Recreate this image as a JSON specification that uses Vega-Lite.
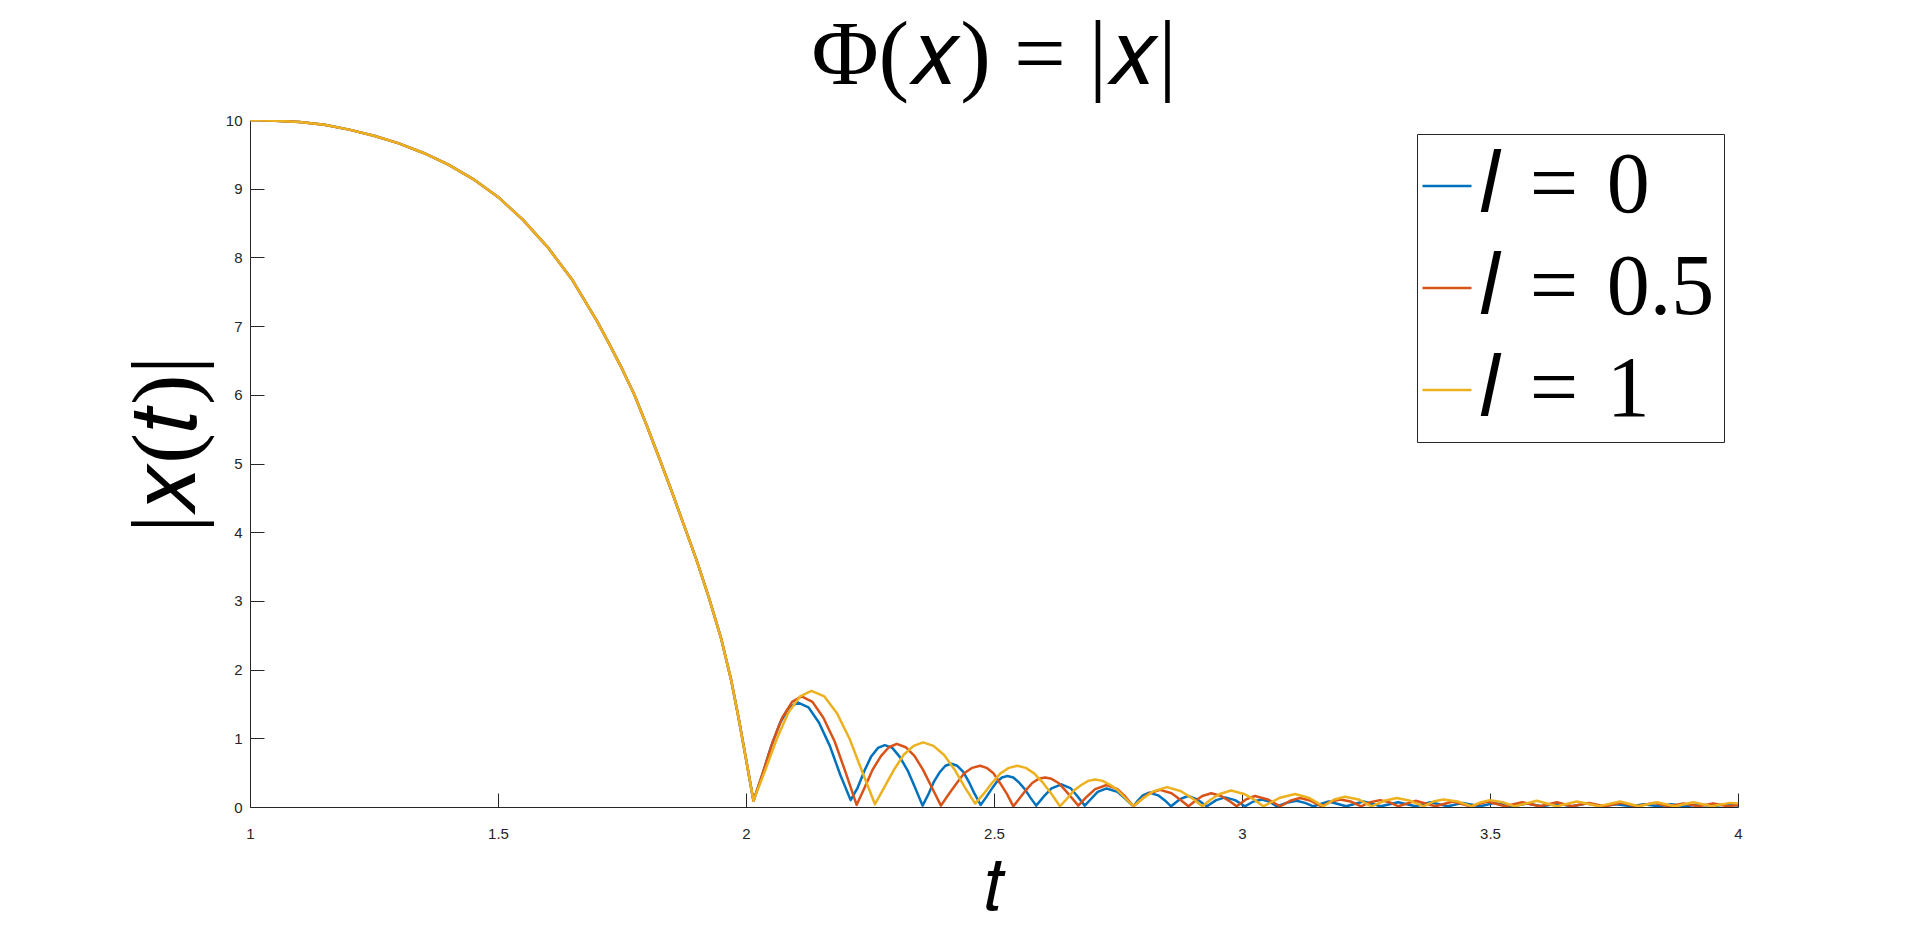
{
"$schema":"https://vega.github.io/schema/vega-lite/v6.json",
"autosize":{"type":"none"},
"padding":{"left":250,"top":120,"right":182,"bottom":129},
"width":1488,"height":687,
"background":"white",
"config":{"view":{"stroke":null}},
"title":{"text":"Φ(𝑥) = |𝑥|","font":"Liberation Serif","fontSize":92,"fontWeight":"normal","color":"black","anchor":"middle","offset":10},
"data":{"values":[
{"l":"0","t":1.00,"v":10.00},{"l":"0","t":1.05,"v":9.99},{"l":"0","t":1.10,"v":9.97},{"l":"0","t":1.15,"v":9.93},{"l":"0","t":1.20,"v":9.86},{"l":"0","t":1.25,"v":9.77},{"l":"0","t":1.30,"v":9.66},{"l":"0","t":1.35,"v":9.52},{"l":"0","t":1.40,"v":9.35},{"l":"0","t":1.45,"v":9.14},{"l":"0","t":1.50,"v":8.88},{"l":"0","t":1.55,"v":8.55},{"l":"0","t":1.60,"v":8.15},{"l":"0","t":1.65,"v":7.67},{"l":"0","t":1.70,"v":7.07},{"l":"0","t":1.725,"v":6.73},{"l":"0","t":1.75,"v":6.38},{"l":"0","t":1.775,"v":6.00},{"l":"0","t":1.80,"v":5.55},{"l":"0","t":1.825,"v":5.08},{"l":"0","t":1.85,"v":4.60},{"l":"0","t":1.875,"v":4.10},{"l":"0","t":1.90,"v":3.60},{"l":"0","t":1.925,"v":3.05},{"l":"0","t":1.95,"v":2.45},{"l":"0","t":1.97,"v":1.85},{"l":"0","t":1.985,"v":1.30},{"l":"0","t":2.0,"v":0.70},{"l":"0","t":2.015,"v":0.09},
{"l":"0","t":2.033,"v":0.47},{"l":"0","t":2.051,"v":0.89},{"l":"0","t":2.069,"v":1.23},{"l":"0","t":2.087,"v":1.45},{"l":"0","t":2.105,"v":1.52},{"l":"0","t":2.126,"v":1.45},{"l":"0","t":2.147,"v":1.23},{"l":"0","t":2.169,"v":0.89},{"l":"0","t":2.190,"v":0.47},{"l":"0","t":2.211,"v":0.10},
{"l":"0","t":2.225,"v":0.28},{"l":"0","t":2.239,"v":0.53},{"l":"0","t":2.252,"v":0.73},{"l":"0","t":2.266,"v":0.86},{"l":"0","t":2.280,"v":0.90},{"l":"0","t":2.295,"v":0.86},{"l":"0","t":2.310,"v":0.73},{"l":"0","t":2.326,"v":0.53},{"l":"0","t":2.341,"v":0.28},{"l":"0","t":2.356,"v":0.02},
{"l":"0","t":2.368,"v":0.19},{"l":"0","t":2.379,"v":0.37},{"l":"0","t":2.391,"v":0.51},{"l":"0","t":2.402,"v":0.60},{"l":"0","t":2.414,"v":0.63},{"l":"0","t":2.426,"v":0.60},{"l":"0","t":2.438,"v":0.51},{"l":"0","t":2.449,"v":0.37},{"l":"0","t":2.461,"v":0.19},{"l":"0","t":2.473,"v":0.03},
{"l":"0","t":2.484,"v":0.14},{"l":"0","t":2.495,"v":0.26},{"l":"0","t":2.505,"v":0.36},{"l":"0","t":2.516,"v":0.43},{"l":"0","t":2.527,"v":0.45},{"l":"0","t":2.539,"v":0.43},{"l":"0","t":2.550,"v":0.36},{"l":"0","t":2.562,"v":0.26},{"l":"0","t":2.573,"v":0.14},{"l":"0","t":2.585,"v":0.02},
{"l":"0","t":2.600,"v":0.15},{"l":"0","t":2.616,"v":0.27},{"l":"0","t":2.636,"v":0.33},{"l":"0","t":2.655,"v":0.27},{"l":"0","t":2.669,"v":0.15},{"l":"0","t":2.683,"v":0.02},
{"l":"0","t":2.696,"v":0.12},{"l":"0","t":2.709,"v":0.22},{"l":"0","t":2.727,"v":0.27},{"l":"0","t":2.749,"v":0.22},{"l":"0","t":2.765,"v":0.12},{"l":"0","t":2.781,"v":0.01},
{"l":"0","t":2.791,"v":0.10},{"l":"0","t":2.800,"v":0.17},{"l":"0","t":2.813,"v":0.21},{"l":"0","t":2.831,"v":0.17},{"l":"0","t":2.844,"v":0.10},{"l":"0","t":2.857,"v":0.01},
{"l":"0","t":2.874,"v":0.11},{"l":"0","t":2.891,"v":0.16},{"l":"0","t":2.910,"v":0.11},{"l":"0","t":2.929,"v":0.01},
{"l":"0","t":2.948,"v":0.10},{"l":"0","t":2.966,"v":0.14},{"l":"0","t":2.986,"v":0.10},{"l":"0","t":3.006,"v":0.01},
{"l":"0","t":3.023,"v":0.08},{"l":"0","t":3.040,"v":0.11},{"l":"0","t":3.055,"v":0.08},{"l":"0","t":3.070,"v":0.01},
{"l":"0","t":3.090,"v":0.06},{"l":"0","t":3.110,"v":0.09},{"l":"0","t":3.127,"v":0.06},{"l":"0","t":3.144,"v":0.01},
{"l":"0","t":3.175,"v":0.08},{"l":"0","t":3.21,"v":0.01},{"l":"0","t":3.245,"v":0.08},{"l":"0","t":3.28,"v":0.01},{"l":"0","t":3.315,"v":0.07},{"l":"0","t":3.35,"v":0.01},{"l":"0","t":3.38,"v":0.07},{"l":"0","t":3.415,"v":0.01},{"l":"0","t":3.445,"v":0.06},{"l":"0","t":3.48,"v":0.01},{"l":"0","t":3.51,"v":0.06},{"l":"0","t":3.545,"v":0.01},{"l":"0","t":3.575,"v":0.05},{"l":"0","t":3.605,"v":0.01},{"l":"0","t":3.635,"v":0.05},{"l":"0","t":3.665,"v":0.01},{"l":"0","t":3.695,"v":0.05},{"l":"0","t":3.725,"v":0.01},{"l":"0","t":3.755,"v":0.04},{"l":"0","t":3.785,"v":0.01},{"l":"0","t":3.81,"v":0.04},{"l":"0","t":3.84,"v":0.01},{"l":"0","t":3.865,"v":0.04},{"l":"0","t":3.895,"v":0.01},{"l":"0","t":3.92,"v":0.04},{"l":"0","t":3.95,"v":0.01},{"l":"0","t":3.975,"v":0.04},{"l":"0","t":4.0,"v":0.02},
{"l":"0.5","t":1.00,"v":10.00},{"l":"0.5","t":1.05,"v":9.99},{"l":"0.5","t":1.10,"v":9.97},{"l":"0.5","t":1.15,"v":9.93},{"l":"0.5","t":1.20,"v":9.86},{"l":"0.5","t":1.25,"v":9.77},{"l":"0.5","t":1.30,"v":9.66},{"l":"0.5","t":1.35,"v":9.52},{"l":"0.5","t":1.40,"v":9.35},{"l":"0.5","t":1.45,"v":9.14},{"l":"0.5","t":1.50,"v":8.88},{"l":"0.5","t":1.55,"v":8.55},{"l":"0.5","t":1.60,"v":8.15},{"l":"0.5","t":1.65,"v":7.67},{"l":"0.5","t":1.70,"v":7.07},{"l":"0.5","t":1.725,"v":6.73},{"l":"0.5","t":1.75,"v":6.38},{"l":"0.5","t":1.775,"v":6.00},{"l":"0.5","t":1.80,"v":5.55},{"l":"0.5","t":1.825,"v":5.08},{"l":"0.5","t":1.85,"v":4.60},{"l":"0.5","t":1.875,"v":4.10},{"l":"0.5","t":1.90,"v":3.60},{"l":"0.5","t":1.925,"v":3.05},{"l":"0.5","t":1.95,"v":2.45},{"l":"0.5","t":1.97,"v":1.85},{"l":"0.5","t":1.985,"v":1.30},{"l":"0.5","t":2.0,"v":0.70},{"l":"0.5","t":2.015,"v":0.09},
{"l":"0.5","t":2.034,"v":0.50},{"l":"0.5","t":2.054,"v":0.95},{"l":"0.5","t":2.073,"v":1.30},{"l":"0.5","t":2.093,"v":1.53},{"l":"0.5","t":2.112,"v":1.61},{"l":"0.5","t":2.134,"v":1.53},{"l":"0.5","t":2.156,"v":1.30},{"l":"0.5","t":2.179,"v":0.95},{"l":"0.5","t":2.201,"v":0.50},{"l":"0.5","t":2.223,"v":0.03},
{"l":"0.5","t":2.239,"v":0.28},{"l":"0.5","t":2.255,"v":0.54},{"l":"0.5","t":2.272,"v":0.74},{"l":"0.5","t":2.288,"v":0.87},{"l":"0.5","t":2.304,"v":0.92},{"l":"0.5","t":2.322,"v":0.87},{"l":"0.5","t":2.340,"v":0.74},{"l":"0.5","t":2.357,"v":0.54},{"l":"0.5","t":2.375,"v":0.28},{"l":"0.5","t":2.393,"v":0.02},
{"l":"0.5","t":2.409,"v":0.19},{"l":"0.5","t":2.425,"v":0.35},{"l":"0.5","t":2.440,"v":0.49},{"l":"0.5","t":2.456,"v":0.57},{"l":"0.5","t":2.472,"v":0.60},{"l":"0.5","t":2.485,"v":0.57},{"l":"0.5","t":2.499,"v":0.49},{"l":"0.5","t":2.512,"v":0.35},{"l":"0.5","t":2.526,"v":0.19},{"l":"0.5","t":2.539,"v":0.01},
{"l":"0.5","t":2.552,"v":0.13},{"l":"0.5","t":2.565,"v":0.25},{"l":"0.5","t":2.577,"v":0.35},{"l":"0.5","t":2.590,"v":0.41},{"l":"0.5","t":2.603,"v":0.43},{"l":"0.5","t":2.616,"v":0.41},{"l":"0.5","t":2.630,"v":0.35},{"l":"0.5","t":2.643,"v":0.25},{"l":"0.5","t":2.657,"v":0.13},{"l":"0.5","t":2.670,"v":0.02},
{"l":"0.5","t":2.687,"v":0.15},{"l":"0.5","t":2.704,"v":0.26},{"l":"0.5","t":2.727,"v":0.32},{"l":"0.5","t":2.749,"v":0.26},{"l":"0.5","t":2.765,"v":0.15},{"l":"0.5","t":2.781,"v":0.01},
{"l":"0.5","t":2.797,"v":0.11},{"l":"0.5","t":2.813,"v":0.20},{"l":"0.5","t":2.835,"v":0.25},{"l":"0.5","t":2.858,"v":0.20},{"l":"0.5","t":2.875,"v":0.11},{"l":"0.5","t":2.892,"v":0.01},
{"l":"0.5","t":2.906,"v":0.09},{"l":"0.5","t":2.920,"v":0.16},{"l":"0.5","t":2.938,"v":0.20},{"l":"0.5","t":2.958,"v":0.16},{"l":"0.5","t":2.974,"v":0.09},{"l":"0.5","t":2.989,"v":0.01},
{"l":"0.5","t":3.008,"v":0.11},{"l":"0.5","t":3.026,"v":0.16},{"l":"0.5","t":3.052,"v":0.11},{"l":"0.5","t":3.077,"v":0.01},
{"l":"0.5","t":3.097,"v":0.09},{"l":"0.5","t":3.117,"v":0.13},{"l":"0.5","t":3.139,"v":0.09},{"l":"0.5","t":3.160,"v":0.01},
{"l":"0.5","t":3.179,"v":0.08},{"l":"0.5","t":3.198,"v":0.11},{"l":"0.5","t":3.219,"v":0.08},{"l":"0.5","t":3.240,"v":0.01},
{"l":"0.5","t":3.259,"v":0.07},{"l":"0.5","t":3.278,"v":0.10},{"l":"0.5","t":3.297,"v":0.07},{"l":"0.5","t":3.315,"v":0.01},
{"l":"0.5","t":3.35,"v":0.09},{"l":"0.5","t":3.39,"v":0.01},{"l":"0.5","t":3.425,"v":0.08},{"l":"0.5","t":3.46,"v":0.01},{"l":"0.5","t":3.495,"v":0.08},{"l":"0.5","t":3.53,"v":0.01},{"l":"0.5","t":3.565,"v":0.07},{"l":"0.5","t":3.60,"v":0.01},{"l":"0.5","t":3.635,"v":0.07},{"l":"0.5","t":3.665,"v":0.01},{"l":"0.5","t":3.70,"v":0.06},{"l":"0.5","t":3.73,"v":0.01},{"l":"0.5","t":3.765,"v":0.06},{"l":"0.5","t":3.795,"v":0.01},{"l":"0.5","t":3.83,"v":0.06},{"l":"0.5","t":3.86,"v":0.01},{"l":"0.5","t":3.89,"v":0.05},{"l":"0.5","t":3.92,"v":0.01},{"l":"0.5","t":3.95,"v":0.05},{"l":"0.5","t":3.98,"v":0.01},{"l":"0.5","t":4.0,"v":0.03},
{"l":"1","t":1.00,"v":10.00},{"l":"1","t":1.05,"v":9.99},{"l":"1","t":1.10,"v":9.97},{"l":"1","t":1.15,"v":9.93},{"l":"1","t":1.20,"v":9.86},{"l":"1","t":1.25,"v":9.77},{"l":"1","t":1.30,"v":9.66},{"l":"1","t":1.35,"v":9.52},{"l":"1","t":1.40,"v":9.35},{"l":"1","t":1.45,"v":9.14},{"l":"1","t":1.50,"v":8.88},{"l":"1","t":1.55,"v":8.55},{"l":"1","t":1.60,"v":8.15},{"l":"1","t":1.65,"v":7.67},{"l":"1","t":1.70,"v":7.07},{"l":"1","t":1.725,"v":6.73},{"l":"1","t":1.75,"v":6.38},{"l":"1","t":1.775,"v":6.00},{"l":"1","t":1.80,"v":5.55},{"l":"1","t":1.825,"v":5.08},{"l":"1","t":1.85,"v":4.60},{"l":"1","t":1.875,"v":4.10},{"l":"1","t":1.90,"v":3.60},{"l":"1","t":1.925,"v":3.05},{"l":"1","t":1.95,"v":2.45},{"l":"1","t":1.97,"v":1.85},{"l":"1","t":1.985,"v":1.30},{"l":"1","t":2.0,"v":0.70},{"l":"1","t":2.015,"v":0.09},
{"l":"1","t":2.038,"v":0.52},{"l":"1","t":2.062,"v":0.99},{"l":"1","t":2.085,"v":1.37},{"l":"1","t":2.109,"v":1.61},{"l":"1","t":2.132,"v":1.69},{"l":"1","t":2.158,"v":1.61},{"l":"1","t":2.183,"v":1.37},{"l":"1","t":2.209,"v":0.99},{"l":"1","t":2.234,"v":0.52},{"l":"1","t":2.260,"v":0.04},
{"l":"1","t":2.279,"v":0.29},{"l":"1","t":2.299,"v":0.55},{"l":"1","t":2.318,"v":0.76},{"l":"1","t":2.338,"v":0.89},{"l":"1","t":2.357,"v":0.94},{"l":"1","t":2.378,"v":0.89},{"l":"1","t":2.399,"v":0.76},{"l":"1","t":2.420,"v":0.55},{"l":"1","t":2.441,"v":0.29},{"l":"1","t":2.462,"v":0.05},
{"l":"1","t":2.479,"v":0.19},{"l":"1","t":2.496,"v":0.35},{"l":"1","t":2.513,"v":0.49},{"l":"1","t":2.530,"v":0.57},{"l":"1","t":2.547,"v":0.60},{"l":"1","t":2.564,"v":0.57},{"l":"1","t":2.581,"v":0.49},{"l":"1","t":2.599,"v":0.35},{"l":"1","t":2.616,"v":0.19},{"l":"1","t":2.633,"v":0.01},
{"l":"1","t":2.647,"v":0.12},{"l":"1","t":2.661,"v":0.24},{"l":"1","t":2.676,"v":0.32},{"l":"1","t":2.690,"v":0.38},{"l":"1","t":2.704,"v":0.40},{"l":"1","t":2.719,"v":0.38},{"l":"1","t":2.735,"v":0.32},{"l":"1","t":2.750,"v":0.24},{"l":"1","t":2.766,"v":0.12},{"l":"1","t":2.781,"v":0.01},
{"l":"1","t":2.801,"v":0.13},{"l":"1","t":2.822,"v":0.23},{"l":"1","t":2.849,"v":0.29},{"l":"1","t":2.877,"v":0.23},{"l":"1","t":2.899,"v":0.13},{"l":"1","t":2.920,"v":0.01},
{"l":"1","t":2.937,"v":0.11},{"l":"1","t":2.955,"v":0.19},{"l":"1","t":2.978,"v":0.24},{"l":"1","t":3.004,"v":0.19},{"l":"1","t":3.024,"v":0.11},{"l":"1","t":3.043,"v":0.01},
{"l":"1","t":3.075,"v":0.13},{"l":"1","t":3.107,"v":0.19},{"l":"1","t":3.136,"v":0.13},{"l":"1","t":3.164,"v":0.01},
{"l":"1","t":3.186,"v":0.11},{"l":"1","t":3.208,"v":0.15},{"l":"1","t":3.235,"v":0.11},{"l":"1","t":3.261,"v":0.01},
{"l":"1","t":3.287,"v":0.09},{"l":"1","t":3.312,"v":0.13},{"l":"1","t":3.339,"v":0.09},{"l":"1","t":3.366,"v":0.01},
{"l":"1","t":3.386,"v":0.08},{"l":"1","t":3.406,"v":0.11},{"l":"1","t":3.435,"v":0.08},{"l":"1","t":3.463,"v":0.01},
{"l":"1","t":3.482,"v":0.07},{"l":"1","t":3.50,"v":0.10},{"l":"1","t":3.525,"v":0.07},{"l":"1","t":3.55,"v":0.01},
{"l":"1","t":3.594,"v":0.09},{"l":"1","t":3.635,"v":0.01},{"l":"1","t":3.675,"v":0.08},{"l":"1","t":3.72,"v":0.01},{"l":"1","t":3.762,"v":0.08},{"l":"1","t":3.80,"v":0.01},{"l":"1","t":3.836,"v":0.07},{"l":"1","t":3.873,"v":0.01},{"l":"1","t":3.91,"v":0.07},{"l":"1","t":3.947,"v":0.01},{"l":"1","t":3.984,"v":0.06},{"l":"1","t":4.0,"v":0.05}
]},
"mark":{"type":"line","strokeWidth":2.5,"strokeJoin":"round","clip":true},
"encoding":{
"x":{"field":"t","type":"quantitative","scale":{"domain":[1,4],"nice":false,"zero":false},
 "axis":{"title":"𝑡","values":[1,1.5,2,2.5,3,3.5,4],"format":"~g","grid":false,"tickSize":-14,"tickColor":"#262626","domainColor":"#262626","labelColor":"#262626","labelFont":"Liberation Sans","labelFontSize":15,"labelPadding":33,"labelFlush":false,"titleFont":"Liberation Serif","titleFontSize":72,"titleFontWeight":"normal","titleColor":"black","titleBaseline":"alphabetic","titleY":101}},
"y":{"field":"v","type":"quantitative","scale":{"domain":[0,10],"nice":false},
 "axis":{"title":"|𝑥(𝑡)|","values":[0,1,2,3,4,5,6,7,8,9,10],"format":"d","grid":false,"tickSize":-14,"tickColor":"#262626","domainColor":"#262626","labelColor":"#262626","labelFont":"Liberation Sans","labelFontSize":15,"labelPadding":22,"labelFlush":false,"titleFont":"Liberation Serif","titleFontSize":92,"titleFontWeight":"normal","titleColor":"black","titleAngle":-90,"titleX":-84,"titleY":324,"titleBaseline":"middle","titleAlign":"center"}},
"color":{"field":"l","type":"nominal","scale":{"domain":["0","0.5","1"],"range":["#0072BD","#D95319","#EDB120"]},
 "legend":{"orient":"none","legendX":1167,"legendY":14,"title":null,"symbolType":"stroke","symbolSize":2400,"symbolStrokeWidth":2.5,"symbolOffset":-22,"labelFont":"Liberation Serif","labelFontSize":86,"labelColor":"black","labelOffset":-11,"labelLimit":500,"padding":9,"rowPadding":16,"strokeColor":"#262626","fillColor":"white","labelExpr":"'𝑙\u2004=\u2004' + datum.label"}}
}
}
